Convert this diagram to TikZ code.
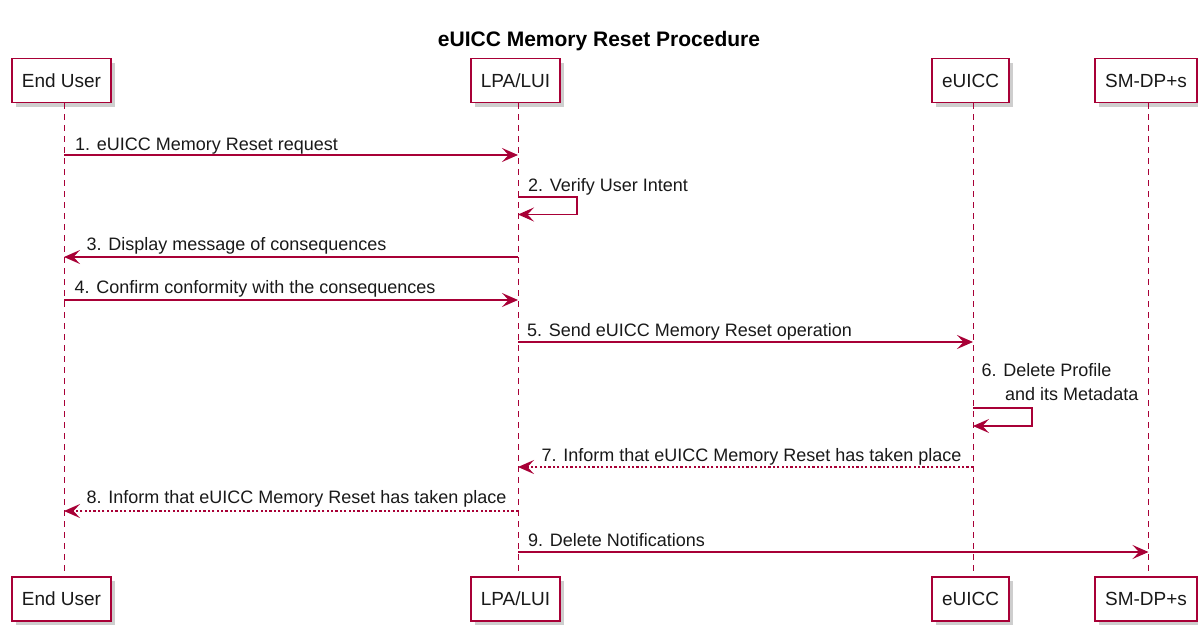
\documentclass[tikz,border=0pt]{standalone}
\usepackage{fontspec}
\setmainfont{Liberation Sans}
\usetikzlibrary{arrows.meta,shadows,calc}
\definecolor{pu}{HTML}{A80036}
\begin{document}
\begin{tikzpicture}[x=1pt,y=-1pt,
  part/.style={draw=pu,line width=1.5pt,fill=white,minimum height=44pt,inner xsep=10pt,
    font=\fontsize{19}{22}\selectfont,text=black!90,
    drop shadow={shadow xshift=4pt,shadow yshift=-4pt,fill=black!35,opacity=0.55}},
  life/.style={draw=pu,line width=1pt,dash pattern=on 6pt off 5pt},
  msg/.style={draw=pu,line width=1.3pt,-{Stealth[length=16pt,width=14pt,inset=6.5pt]}},
  reply/.style={msg,dash pattern=on 2.2pt off 2.2pt},
  lbl/.style={anchor=base west,inner sep=0pt,font=\fontsize{18}{24}\selectfont,text=black!90},
]
\useasboundingbox (0,0) rectangle (1198,626);
\node[font=\bfseries\fontsize{21}{24}\selectfont,anchor=base] (title) at (599,47) {eUICC Memory Reset Procedure};
% participants (top)
\node[part] (euT) at (61.5,80.5) {End User};
\node[part] (lpT) at (515.5,80.5) {LPA/LUI};
\node[part] (ecT) at (970.5,80.5) {eUICC};
\node[part] (smT) at (1146,80.5) {SM-DP+s};
% participants (bottom)
\node[part] (euB) at (61.5,599) {End User};
\node[part] (lpB) at (515.5,599) {LPA/LUI};
\node[part] (ecB) at (970.5,599) {eUICC};
\node[part] (smB) at (1146,599) {SM-DP+s};
% lifelines
\foreach \p in {eu,lp,ec,sm}{
  \draw[life] ($(\p T.south)+(2.5,0)$) -- ($(\p B.north)+(2.5,0)$);
}
% lifeline coordinates
\coordinate (eu1) at (64,155);  \coordinate (lp1) at (518,155);
\coordinate (lp2a) at (518,197); \coordinate (lp2b) at (518,214.5);
\coordinate (eu3) at (64,257);  \coordinate (lp3) at (518,257);
\coordinate (eu4) at (64,300);  \coordinate (lp4) at (518,300);
\coordinate (lp5) at (518,342); \coordinate (ec5) at (973,342);
\coordinate (ec6a) at (973,408); \coordinate (ec6b) at (973,426);
\coordinate (ec7) at (973,467); \coordinate (lp7) at (518,467);
\coordinate (lp8) at (518,511); \coordinate (eu8) at (64,511);
\coordinate (lp9) at (518,552); \coordinate (sm9) at (1148.5,552);
% messages
\draw[msg] (eu1) -- (lp1);
\node[lbl] (l1) at (75,150) {1. eUICC Memory Reset request};
\draw[msg] (lp2a) -- ++(59,0) |- (lp2b);
\node[lbl] (l2) at (528,191.5) {2. Verify User Intent};
\draw[msg] (lp3) -- (eu3);
\node[lbl] (l3) at (86.5,250.5) {3. Display message of consequences};
\draw[msg] (eu4) -- (lp4);
\node[lbl] (l4) at (74.5,293.5) {4. Confirm conformity with the consequences};
\draw[msg] (lp5) -- (ec5);
\node[lbl] (l5) at (527,336.5) {5. Send eUICC Memory Reset operation};
\draw[msg] (ec6a) -- ++(59,0) |- (ec6b);
\node[lbl,align=left,anchor=north west] (l6) at (981.5,363) {6. Delete Profile\\\hspace*{23.5pt}and its Metadata};
\draw[reply] (ec7) -- (lp7);
\node[lbl] (l7) at (541.5,461) {7. Inform that eUICC Memory Reset has taken place};
\draw[reply] (lp8) -- (eu8);
\node[lbl] (l8) at (86.5,503.5) {8. Inform that eUICC Memory Reset has taken place};
\draw[msg] (lp9) -- (sm9);
\node[lbl] (l9) at (528,546.5) {9. Delete Notifications};
\end{tikzpicture}
\end{document}
